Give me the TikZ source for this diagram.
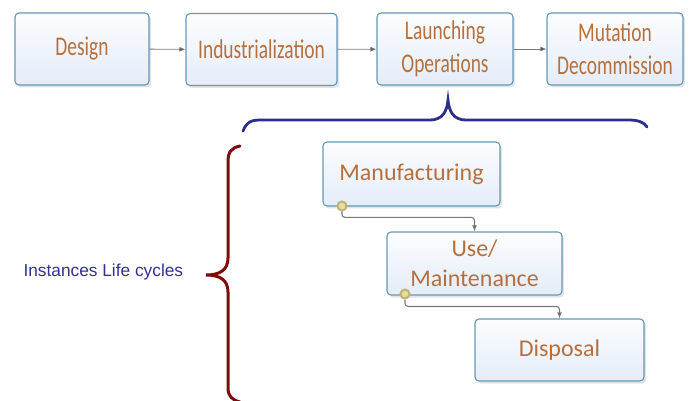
\documentclass[tikz,border=0pt]{standalone}
\usepackage{fontspec}
\setmainfont{Carlito}
\newfontfamily\lblfont{Liberation Sans}
\usetikzlibrary{arrows.meta,shadows,calc}
\definecolor{boxline}{RGB}{100,152,184}
\definecolor{boxtop}{RGB}{252,253,255}
\definecolor{boxbot}{RGB}{228,236,248}
\definecolor{txtbrown}{RGB}{182,112,62}
\definecolor{bracebl}{RGB}{46,46,140}
\definecolor{bracerd}{RGB}{130,10,10}
\definecolor{lblblue}{RGB}{50,50,150}
\definecolor{connline}{RGB}{120,120,120}
\definecolor{portring}{RGB}{190,180,120}
\definecolor{portfill}{RGB}{215,200,90}
\tikzset{
  box/.style={draw=boxline, line width=1.1pt, rounded corners=4pt,
    top color=boxtop, bottom color=boxbot, text=txtbrown, align=center,
    inner sep=0pt, drop shadow={shadow xshift=2pt, shadow yshift=-2.5pt, opacity=0.22, fill=gray}},
  topbox/.style={box, minimum width=136pt, minimum height=72pt, font=\fontsize{27}{33}\selectfont},
  lowbox/.style={box, minimum height=63pt, font=\fontsize{24}{30}\selectfont},
  flow/.style={draw=connline, line width=0.9pt, -{Latex[length=6pt,width=5pt,fill=black!80]}},
  conn/.style={draw=connline, line width=1.1pt, rounded corners=3pt, -{Latex[length=6pt,width=5pt,fill=black!80]}},
  port/.style={circle, draw=portring, line width=2pt, fill=portfill!60, minimum size=9pt, inner sep=0pt},
}
\newcommand{\sq}[1]{\scalebox{0.72}[1]{#1}}
\begin{document}
\begin{tikzpicture}[x=1pt,y=-1pt]
\useasboundingbox (0,0) rectangle (689,401);
\fill[white] (0,0) rectangle (689,401);
% top row
\node[topbox, minimum width=134pt] (des) at (82,49) {\sq{Design}};
\node[topbox, minimum width=151pt] (ind) at (261.5,49.5) {\sq{Industrialization}};
\node[topbox] (lau) at (445,49) {\sq{Launching}\\\sq{Operations}};
\node[topbox] (mut) at (615,49) {\sq{Mutation}\\\sq{Decommission}};
\draw[flow] (des) -- (ind);
\draw[flow] (ind) -- (lau);
\draw[flow] (lau) -- (mut);
% blue brace
\draw[bracebl, line width=2.8pt, line cap=round]
  (243,131) .. controls (247,121) and (252,120) .. (262,120)
  -- (430,120) .. controls (442,120) and (447,112) .. (448,100)
  .. controls (449,112) and (454,120) .. (466,120)
  -- (628,120) .. controls (638,120) and (644,122) .. (647,127);
% red brace
\draw[bracerd, line width=3pt, line cap=round]
  (240,146) .. controls (231,148) and (228,152) .. (228,162)
  -- (228,258) .. controls (228,270) and (220,275) .. (206,275)
  .. controls (220,275) and (228,280) .. (228,292)
  -- (228,388) .. controls (228,396) and (232,400) .. (240,402);
\node[text=lblblue, font=\lblfont\fontsize{17.3}{20}\selectfont, anchor=west] (lbl) at (20,272) {Instances Life cycles};
% lower boxes
\node[lowbox, minimum width=177pt, minimum height=64pt] (man) at (411.5,174) {Manufacturing};
\node[lowbox, minimum width=175pt] (use) at (474.5,263.5) {Use/\\Maintenance};
\node[lowbox, minimum width=169pt, minimum height=62pt] (dis) at (559.5,350) {Disposal};
\node[port] (p1) at (342,206) {};
\node[port] (p2) at (405,294) {};
\draw[conn] (p1.south) |- ($(use.north)+(0,-14)$) -- (use.north);
\draw[conn] (p2.south) |- ($(dis.north)+(0,-12)$) -- (dis.north);
\end{tikzpicture}
\end{document}
